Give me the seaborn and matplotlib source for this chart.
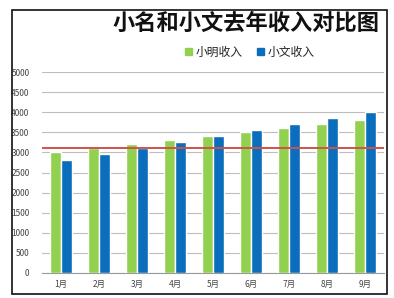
import matplotlib
matplotlib.use("Agg")
import matplotlib.pyplot as plt
import seaborn as sns
import pandas as pd
from matplotlib.patches import Rectangle

months = ["1月", "2月", "3月", "4月", "5月", "6月", "7月", "8月", "9月"]
xiaoming = [3000, 3100, 3200, 3300, 3400, 3500, 3600, 3700, 3800]
xiaowen = [2800, 2950, 3100, 3250, 3400, 3550, 3700, 3850, 4000]
series_names = ["小明收入", "小文收入"]
ref_value = 3120
title = "小名和小文去年收入对比图"

sns.set_theme(style="white")
plt.rcParams['font.family'] = ['Noto Sans CJK SC', 'DejaVu Sans']

df = pd.DataFrame({
    "月份": months * 2,
    "收入": xiaoming + xiaowen,
    "系列": [series_names[0]] * len(months) + [series_names[1]] * len(months),
})

W, H = 394, 298
fig = plt.figure(figsize=(W / 100, H / 100), dpi=100)
ax = fig.add_axes([42 / W, 25 / H, 342 / W, 201 / H])

palette = {series_names[0]: "#92D050", series_names[1]: "#0A6EBD"}
sns.barplot(data=df, x="月份", y="收入", hue="系列", palette=palette,
            width=0.6, gap=0.05, saturation=1, ax=ax, legend=False, zorder=3)

ax.set_ylim(0, 5000)
ax.set_xlim(-0.5, len(months) - 0.5)
ax.set_yticks(range(0, 5001, 500))
ax.set_xlabel("")
ax.set_ylabel("")
ax.yaxis.grid(True, color="#BDBDBD", linewidth=0.8, zorder=0)
ax.set_axisbelow(True)
for s in ["top", "right", "left"]:
    ax.spines[s].set_visible(False)
ax.spines["bottom"].set_color("#9A9A9A")
ax.spines["bottom"].set_linewidth(0.8)
ax.tick_params(axis="y", labelsize=6, colors="#444444", length=3, width=0.6,
               pad=6, color="#BDBDBD")
ax.tick_params(axis="x", labelsize=6, colors="#444444", length=0, pad=5)
ax.set_xticks([i + 0.5 for i in range(len(months) - 1)], minor=True)
ax.tick_params(axis="x", which="minor", length=4, width=0.6, color="#9A9A9A")

ax.axhline(ref_value, color="#D0524B", linewidth=1.4, zorder=4)

# frame
fig.add_artist(Rectangle((12 / W, 4 / H), 375 / W, 284 / H, transform=fig.transFigure,
                         fill=False, edgecolor="#111111", linewidth=1.2))

fig.text(113 / W, 1 - 23 / H, title, fontsize=16, fontweight="black",
         ha="left", va="center", color="#111111")

# legend
handles = [Rectangle((0, 0), 1, 1, color=palette[n]) for n in series_names]
leg = fig.legend(handles, series_names, loc="center", bbox_to_anchor=(250 / W, 1 - 52 / H),
                 ncol=2, frameon=False, fontsize=8.5, handlelength=0.6, handleheight=0.6,
                 handletextpad=0.3, columnspacing=1.2)
for t in leg.get_texts():
    t.set_color("#222222")

fig.savefig("out.png", dpi=100, facecolor="white")
